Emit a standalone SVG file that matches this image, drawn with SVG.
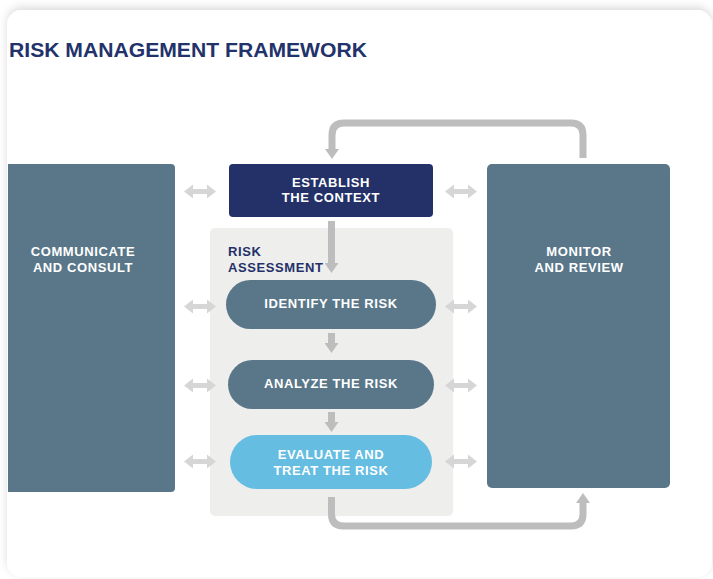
<svg xmlns="http://www.w3.org/2000/svg" width="713" height="579" viewBox="0 0 713 579">
  <defs>
    <style>
      .lbl{font-family:"Liberation Sans",Arial,sans-serif;font-weight:bold;font-size:13px;letter-spacing:0.6px;fill:#ffffff;text-anchor:middle}
      .nav{fill:#243169;text-anchor:start}
      .steel{fill:#5a7789}
      .conn{fill:none;stroke:#bdbdbd;stroke-width:7}
      .dbl{fill:#d6d6d6}
    </style>
    <filter id="sh" x="-5%" y="-5%" width="110%" height="110%">
      <feDropShadow dx="0" dy="-3" stdDeviation="4" flood-color="#000000" flood-opacity="0.14"/>
    </filter>
    <marker id="ah" viewBox="0 0 10 14" refX="0" refY="7" markerWidth="10" markerHeight="14" markerUnits="userSpaceOnUse" orient="auto">
      <path d="M0,0 L10,7 L0,14 Z" fill="#bdbdbd"/>
    </marker>
    <polygon id="dblarrow" class="dbl" points="-16,0 -7,-7 -7,-2.5 7,-2.5 7,-7 16,0 7,7 7,2.5 -7,2.5 -7,7"/>
  </defs>

  <rect x="0" y="0" width="713" height="579" fill="#ffffff"/>
  <rect id="card" x="7" y="10" width="705" height="567" rx="15" fill="#ffffff" filter="url(#sh)"/>

  <text id="title" x="9" y="57" font-family="'Liberation Sans',Arial,sans-serif" font-weight="bold" font-size="20" fill="#22326a" textLength="358" lengthAdjust="spacingAndGlyphs">RISK MANAGEMENT FRAMEWORK</text>

  <g id="risk-assessment">
    <rect x="210" y="228" width="243" height="288" rx="5" fill="#eeeeed"/>
    <text class="lbl nav" x="228" y="256">RISK</text>
    <text class="lbl nav" x="228" y="272">ASSESSMENT</text>
  </g>

  <g id="communicate">
    <path class="steel" d="M8,164 H171 Q175,164 175,168 V488 Q175,492 171,492 H8 Z"/>
    <text class="lbl" x="83" y="256">COMMUNICATE</text>
    <text class="lbl" x="83" y="272">AND CONSULT</text>
  </g>

  <g id="monitor">
    <rect class="steel" x="487" y="164" width="183" height="324" rx="5"/>
    <text class="lbl" x="579" y="256">MONITOR</text>
    <text class="lbl" x="579" y="272">AND REVIEW</text>
  </g>

  <g id="establish">
    <rect x="229" y="164" width="204" height="53" rx="4" fill="#243169"/>
    <text class="lbl" x="331" y="187">ESTABLISH</text>
    <text class="lbl" x="331" y="202">THE CONTEXT</text>
  </g>

  <g id="identify">
    <rect class="steel" x="226" y="280" width="210" height="49" rx="24.5"/>
    <text class="lbl" x="331" y="308">IDENTIFY THE RISK</text>
  </g>

  <g id="analyze">
    <rect class="steel" x="228" y="360" width="206" height="49" rx="24.5"/>
    <text class="lbl" x="331" y="388">ANALYZE THE RISK</text>
  </g>

  <g id="evaluate">
    <rect x="230" y="435" width="202" height="54" rx="27" fill="#65bde2"/>
    <text class="lbl" x="331" y="459">EVALUATE AND</text>
    <text class="lbl" x="331" y="475">TREAT THE RISK</text>
  </g>

  <g id="connectors">
    <path class="conn" d="M331.5,221 V263" marker-end="url(#ah)"/>
    <path class="conn" d="M331.5,333 V343" marker-end="url(#ah)"/>
    <path class="conn" d="M331.5,412 V422" marker-end="url(#ah)"/>
    <path class="conn" d="M583,158 V135 Q583,123 571,123 H344 Q332,123 332,135 V149" marker-end="url(#ah)"/>
    <path class="conn" d="M331.5,497 V514 Q331.5,526 343.5,526 H571 Q583,526 583,514 V503" marker-end="url(#ah)"/>
    <use href="#dblarrow" x="200" y="191.5"/>
    <use href="#dblarrow" x="461" y="191.5"/>
    <use href="#dblarrow" x="200" y="306.5"/>
    <use href="#dblarrow" x="461" y="306.5"/>
    <use href="#dblarrow" x="200" y="385.5"/>
    <use href="#dblarrow" x="461" y="385.5"/>
    <use href="#dblarrow" x="200" y="461.5"/>
    <use href="#dblarrow" x="461" y="461.5"/>
  </g>
</svg>
